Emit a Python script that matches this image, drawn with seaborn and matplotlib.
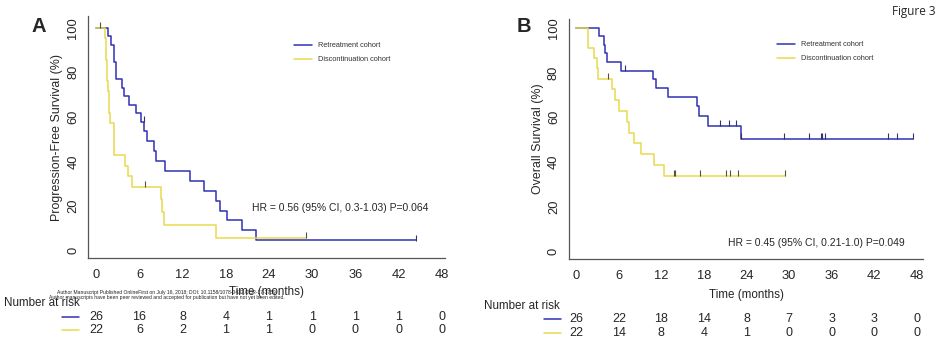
import numpy as np
import pandas as pd
import matplotlib
matplotlib.use("Agg")
import matplotlib.pyplot as plt
import matplotlib.transforms as mtransforms
import seaborn as sns

# ---------------- data ----------------
# Panel A: progression-free survival
a_ret_t = [0, 1.6, 2.0, 2.4, 2.8, 3.6, 3.9, 4.5, 5.5, 6.2, 6.7, 7.0, 8.0, 8.25, 9.6, 13.0, 15.0, 16.6, 17.2, 18.1, 20.3, 22.2, 44.4]
a_ret_s = [100, 96.2, 92.3, 84.6, 76.9, 73.1, 69.2, 65.4, 61.5, 57.7, 53.6, 49.2, 44.5, 40.2, 35.6, 31.1, 26.7, 22.2, 17.8, 13.4, 8.9, 4.5, 4.5]
a_ret_cens = [6.6, 44.4]
a_dis_t = [0, 1.2, 1.3, 1.4, 1.5, 1.55, 1.6, 1.7, 1.8, 1.9, 2.5, 4.0, 4.4, 4.9, 9.0, 9.2, 9.45, 16.7, 29.2]
a_dis_s = [100, 95.2, 90.5, 85.7, 81.0, 76.2, 71.4, 66.7, 61.9, 57.1, 42.9, 38.1, 33.3, 28.6, 22.9, 17.1, 11.4, 5.7, 5.7]
a_dis_cens = [0.5, 6.8, 29.2]

# Panel B: overall survival
b_ret_t = [0, 3.24, 3.95, 4.1, 4.3, 6.25, 10.8, 11.25, 12.9, 17.0, 17.35, 18.6, 23.2, 47.5]
b_ret_s = [100, 96.2, 92.3, 88.5, 84.6, 80.8, 76.9, 72.9, 68.9, 64.9, 60.6, 56.3, 50.5, 50.5]
b_ret_cens = [6.9, 20.2, 21.5, 22.5, 23.2, 29.3, 32.8, 34.5, 34.7, 35.1, 44.0, 45.2, 47.5]
b_dis_t = [0, 1.7, 2.5, 2.9, 3.0, 5.0, 5.5, 6.07, 7.2, 7.5, 8.1, 9.1, 11.0, 12.3, 29.5]
b_dis_s = [100, 90.9, 86.4, 81.8, 77.3, 72.6, 67.8, 62.9, 58.0, 53.2, 48.4, 43.5, 38.7, 34.0, 34.0]
b_dis_cens = [4.4, 13.8, 13.9, 17.5, 21.1, 21.7, 22.8, 29.5]

risk_times = [0, 6, 12, 18, 24, 30, 36, 42, 48]
a_risk_ret = [26, 16, 8, 4, 1, 1, 1, 1, 0]
a_risk_dis = [22, 6, 2, 1, 1, 0, 0, 0, 0]
b_risk_ret = [26, 22, 18, 14, 8, 7, 3, 3, 0]
b_risk_dis = [22, 14, 8, 4, 1, 0, 0, 0, 0]

x_ticks = [0, 6, 12, 18, 24, 30, 36, 42, 48]
y_ticks = [0, 20, 40, 60, 80, 100]
series_names = ["Retreatment cohort", "Discontinuation cohort"]

# ---------------- style ----------------
sns.set_style("white")
plt.rcParams['font.family'] = ['Liberation Sans', 'DejaVu Sans']

BLUE = "#3030b4"
YELLOW = "#e9d84c"
AXC = "#555555"

W, H = 943, 349
fig = plt.figure(figsize=(W / 100, H / 100), dpi=100)


def px_axes(l, t, r, b):
    return fig.add_axes([l / W, 1 - b / H, (r - l) / W, (b - t) / H])


def step_val(ts, ss, x):
    idx = np.searchsorted(np.asarray(ts), x, side="right") - 1
    return np.asarray(ss)[idx]


def panel(ax, ret_t, ret_s, ret_c, dis_t, dis_s, dis_c, xlim, ylim, ylabel, xlpad):
    df_r = pd.DataFrame({"t": ret_t, "s": ret_s})
    df_d = pd.DataFrame({"t": dis_t, "s": dis_s})
    sns.lineplot(data=df_r, x="t", y="s", drawstyle="steps-post", estimator=None,
                 color=BLUE, lw=1.1, ax=ax, label=series_names[0])
    sns.lineplot(data=df_d, x="t", y="s", drawstyle="steps-post", estimator=None,
                 color=YELLOW, lw=1.1, ax=ax, label=series_names[1])
    for cens, ts, ss, col in [(ret_c, ret_t, ret_s, "#333366"), (dis_c, dis_t, dis_s, "#555533")]:
        cy = [step_val(ts, ss, c) + 1.2 for c in cens]
        sns.scatterplot(x=cens, y=cy, marker="|", s=22, linewidth=0.8, color=col, ax=ax, zorder=5)
    ax.set_xlim(*xlim)
    ax.set_ylim(*ylim)
    ax.set_xticks(x_ticks)
    ax.set_yticks(y_ticks)
    ax.set_yticklabels([str(v) for v in y_ticks], rotation=90, va="center")
    ax.tick_params(axis="both", direction="out", length=5, width=0.8, color=AXC,
                   labelsize=9.3, pad=1.5)
    ax.tick_params(axis="x", pad=3)
    for sp in ["top", "right"]:
        ax.spines[sp].set_visible(False)
    for sp in ["left", "bottom"]:
        ax.spines[sp].set_color(AXC)
        ax.spines[sp].set_linewidth(0.9)
    ax.set_xlabel("Time (months)", fontsize=8.4, labelpad=xlpad)
    ax.set_ylabel(ylabel, fontsize=8.9, labelpad=3)
    ax.grid(False)


axA = px_axes(88.3, 16, 445, 258.3)
panel(axA, a_ret_t, a_ret_s, a_ret_cens, a_dis_t, a_dis_s, a_dis_cens,
      (-1.11, 48.46), (-3.6, 105.3), "Progression-Free Survival (%)", 3.5)
axB = px_axes(569, 19.3, 923.3, 259)
panel(axB, b_ret_t, b_ret_s, b_ret_cens, b_dis_t, b_dis_s, b_dis_cens,
      (-1.03, 48.94), (-3.26, 103.75), "Overall Survival (%)", 5.0)

# legends
for ax, lx, ly in [(axA, 294, 42), (axB, 777, 41)]:
    leg = ax.legend(loc="upper left", bbox_to_anchor=(lx / W, 1 - ly / H),
                    bbox_transform=fig.transFigure, frameon=False, fontsize=5.3,
                    handlelength=2.4, handletextpad=0.9, labelspacing=0.95,
                    borderaxespad=0, borderpad=0)
    for t in leg.get_texts():
        t.set_color("#333333")

# HR annotations
axA.text(251.7 / W, 1 - 207.7 / H, "HR = 0.56 (95% CI, 0.3-1.03) P=0.064",
         transform=fig.transFigure, fontsize=7.5, va="center", ha="left")
axB.text(728 / W, 1 - 242.7 / H, "HR = 0.45 (95% CI, 0.21-1.0) P=0.049",
         transform=fig.transFigure, fontsize=7.5, va="center", ha="left")

# panel letters and figure label
fig.text(32 / W, 1 - 27 / H, "A", fontsize=14.5, fontweight="bold", va="center", ha="left")
fig.text(517 / W, 1 - 26 / H, "B", fontsize=14.5, fontweight="bold", va="center", ha="left")
fig.text(935 / W, 1 - 12 / H, "Figure 3", fontsize=8.5, va="center", ha="right",
         family=["Open Sans", "DejaVu Sans"])

# watermark
fig.text(57 / W, 1 - 292.5 / H,
         "Author Manuscript Published OnlineFirst on July 16, 2018; DOI: 10.1158/1078-0432.CCR-17-3759",
         fontsize=3.6, va="center", ha="left", color="#222222")
fig.text(49 / W, 1 - 297.8 / H,
         "Author manuscripts have been peer reviewed and accepted for publication but have not yet been edited.",
         fontsize=3.6, va="center", ha="left", color="#222222")

# number at risk tables
for ax, nx, ny, r1, r2, seg, rr, rd in [
        (axA, 4, 303, 316.7, 330.3, (62, 79), a_risk_ret, a_risk_dis),
        (axB, 484, 305.7, 319.3, 332.7, (544, 561), b_risk_ret, b_risk_dis)]:
    fig.text(nx / W, 1 - ny / H, "Number at risk", fontsize=8.4, va="center", ha="left")
    tr = mtransforms.blended_transform_factory(ax.transData, fig.transFigure)
    for yy, vals, col in [(r1, rr, BLUE), (r2, rd, YELLOW)]:
        fig.add_artist(plt.Line2D([seg[0] / W, seg[1] / W], [1 - yy / H, 1 - yy / H],
                                  color=col, lw=1.1, transform=fig.transFigure))
        for xt, v in zip(risk_times, vals):
            ax.text(xt, 1 - yy / H, str(v), transform=tr, fontsize=9,
                    ha="center", va="center", clip_on=False)

fig.savefig("out.png", dpi=100)
